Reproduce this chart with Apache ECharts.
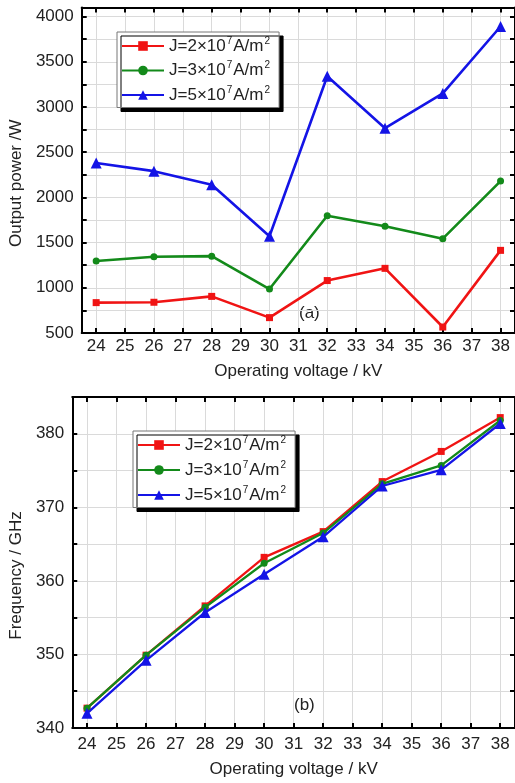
<!DOCTYPE html>
<html><head><meta charset="utf-8">
<script src="https://cdn.jsdelivr.net/npm/echarts@6/dist/echarts.min.js"></script>
<style>html,body{margin:0;padding:0;background:#fff;}#c{width:515px;height:783px;}</style>
</head><body><div id="c"></div>
<script>
// ---- data ----
const voltages = [24, 26, 28, 30, 32, 34, 36, 38];
const xTickValues = [24, 25, 26, 27, 28, 29, 30, 31, 32, 33, 34, 35, 36, 37, 38];
const densities = ['2', '3', '5'];
const powerJ2 = [836, 840, 905, 670, 1080, 1215, 566, 1414];
const powerJ3 = [1296, 1344, 1350, 986, 1797, 1680, 1543, 2180];
const powerJ5 = [2380, 2290, 2140, 1570, 3340, 2765, 3150, 3890];
const freqJ2 = [342.7, 349.9, 356.6, 363.2, 366.7, 373.5, 377.6, 382.2];
const freqJ3 = [342.7, 349.9, 356.4, 362.4, 366.5, 373.2, 375.7, 381.8];
const freqJ5 = [342.0, 349.2, 355.7, 360.9, 366.0, 372.9, 375.1, 381.4];
const powerLabels = [500, 1000, 1500, 2000, 2500, 3000, 3500, 4000];
const freqLabels = [340, 350, 360, 370, 380];

// ---- styling ----
const FONT = '"Liberation Sans", Arial, sans-serif';
const TXT = '#222';
const colors = ['#f01414', '#138a1a', '#1414e6'];
const symbols = ['rect', 'circle', 'triangle'];
const symSizes = [7, 7, 11];
const names = densities.map(d => 'J=' + d + '×10⁷A/m²');

function pairs(vals) { return voltages.map((v, i) => [v, vals[i]]); }

function xAxes(gi, labelMargin, nameGap) {
  const line = { onZero: false, lineStyle: { color: '#000', width: 2 } };
  const tick = { inside: true, length: 5, customValues: xTickValues, lineStyle: { color: '#000', width: 2 } };
  return [{
    type: 'value', gridIndex: gi, min: 23.5, max: 38.5, position: 'bottom',
    name: 'Operating voltage / kV', nameLocation: 'middle', nameGap: nameGap,
    nameTextStyle: { fontSize: 17, color: TXT, fontFamily: FONT },
    axisLine: line, axisTick: tick,
    axisLabel: { customValues: xTickValues, margin: labelMargin, fontSize: 17, color: TXT, fontFamily: FONT },
    splitLine: { show: true, lineStyle: { color: '#dadada', width: 1 } }
  }, {
    type: 'value', gridIndex: gi, min: 23.5, max: 38.5, position: 'top',
    axisLine: line, axisTick: tick, axisLabel: { show: false }, splitLine: { show: false }
  }];
}

function yAxes(gi, min, max, interval, labels, name, nameGap) {
  const line = { onZero: false, lineStyle: { color: '#000', width: 2 } };
  const tick = { inside: true, length: 5, lineStyle: { color: '#000', width: 2 } };
  return [{
    type: 'value', gridIndex: gi, min: min, max: max, interval: interval, position: 'left',
    name: name, nameLocation: 'middle', nameGap: nameGap,
    nameTextStyle: { fontSize: 17, color: TXT, fontFamily: FONT, padding: [0, 26, 0, 0] },
    axisLine: line, axisTick: tick,
    axisLabel: { margin: 8, fontSize: 17, color: TXT, fontFamily: FONT,
      formatter: v => labels.indexOf(v) >= 0 ? String(v) : '' },
    splitLine: { show: true, lineStyle: { color: '#dadada', width: 1 } }
  }, {
    type: 'value', gridIndex: gi, min: min, max: max, interval: interval, position: 'right',
    axisLine: line, axisTick: tick, axisLabel: { show: false }, splitLine: { show: false }
  }];
}

function makeSeries(gi, dataArrs, width) {
  return dataArrs.map((arr, k) => ({
    type: 'line', name: names[k], xAxisIndex: gi * 2, yAxisIndex: gi * 2,
    data: pairs(arr), symbol: symbols[k], symbolSize: symSizes[k],
    showAllSymbol: true, z: 3 + k,
    lineStyle: { color: colors[k], width: width },
    itemStyle: { color: colors[k] }
  }));
}

function legend(left, top, gap) {
  return {
    orient: 'vertical', left: left, top: top, data: names,
    backgroundColor: '#fff', borderColor: '#777', borderWidth: 1,
    shadowColor: '#000', shadowBlur: 0, shadowOffsetX: 4, shadowOffsetY: 4,
    padding: [4, 8, 4, 4], itemGap: gap, itemWidth: 42, itemHeight: 12,
    selectedMode: false,
    formatter: function (n) {
      const k = names.indexOf(n);
      return '{t|J=' + densities[k] + '×10}{s|7}{t|A/m}{s|2}';
    },
    textStyle: {
      fontFamily: FONT, color: TXT,
      rich: {
        t: { fontSize: 17, lineHeight: 20, fontFamily: FONT, color: TXT },
        s: { fontSize: 10, lineHeight: 20, verticalAlign: 'top', fontFamily: FONT, color: TXT, padding: [0, 1, 0, 1] }
      }
    }
  };
}

const chart = echarts.init(document.getElementById('c'), null, { renderer: 'canvas' });
chart.setOption({
  animation: false,
  backgroundColor: '#fff',
  textStyle: { fontFamily: FONT },
  grid: [
    { left: 80, top: 7.5, right: -2, bottom: 450 },
    { left: 71, top: 397, right: -4, bottom: 55 }
  ],
  xAxis: xAxes(0, 5, 30).concat(xAxes(1, 8, 33)),
  yAxis: yAxes(0, 500, 4100, 250, powerLabels, 'Output power /W', 48)
    .concat(yAxes(1, 340, 385, 5, freqLabels, 'Frequency / GHz', 41)),
  legend: [legend(117, 32, 6), legend(133, 431, 6.5)],
  series: makeSeries(0, [powerJ2, powerJ3, powerJ5], 2.6).concat(makeSeries(1, [freqJ2, freqJ3, freqJ5], 2.3)),
  graphic: [
    { type: 'text', left: 299, top: 305, style: { text: '(a)', fontSize: 17, fill: TXT, fontFamily: FONT } },
    { type: 'text', left: 294, top: 697, style: { text: '(b)', fontSize: 17, fill: TXT, fontFamily: FONT } }
  ]
});
</script></body></html>
